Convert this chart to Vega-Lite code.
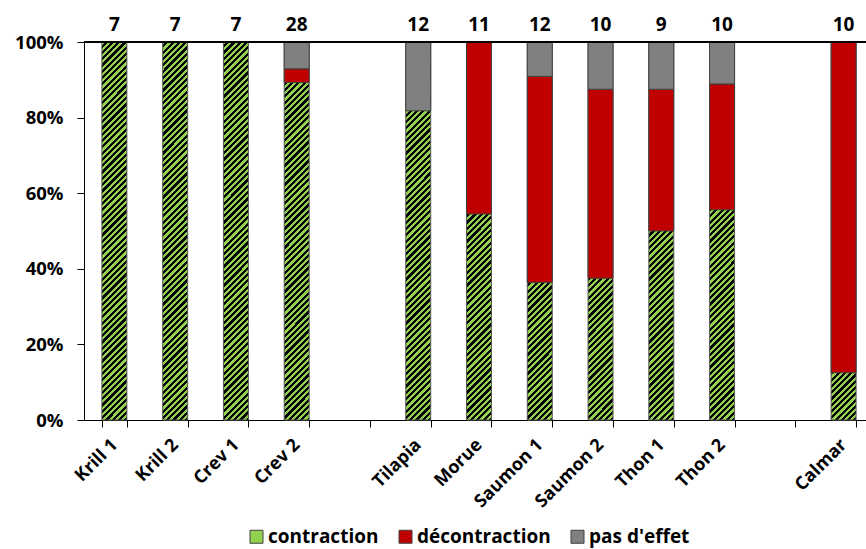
{
  "$schema": "https://vega.github.io/schema/vega-lite/v6.json",
  "width": 782,
  "height": 378,
  "autosize": "none",
  "padding": {"left": 84, "top": 42, "right": 0, "bottom": 129},
  "config": {
    "view": {"stroke": null},
    "font": "Open Sans",
    "axis": {"grid": false, "domainColor": "#000000", "tickColor": "#000000", "labelColor": "#000000", "labelFont": "Open Sans", "labelFontWeight": "bold", "labelFontSize": 18, "tickSize": 7, "domainWidth": 1, "tickWidth": 1}
  },
  "data": {
    "values": [
      {"fish": "Krill 1", "type": "contraction", "pct": 1, "n": 7},
      {"fish": "Krill 2", "type": "contraction", "pct": 1, "n": 7},
      {"fish": "Crev 1", "type": "contraction", "pct": 1, "n": 7},
      {"fish": "Crev 2", "type": "contraction", "pct": 0.893, "n": 28},
      {"fish": "Crev 2", "type": "décontraction", "pct": 0.036, "n": 28},
      {"fish": "Crev 2", "type": "pas d'effet", "pct": 0.071, "n": 28},
      {"fish": "Tilapia", "type": "contraction", "pct": 0.818, "n": 12},
      {"fish": "Tilapia", "type": "pas d'effet", "pct": 0.182, "n": 12},
      {"fish": "Morue", "type": "contraction", "pct": 0.545, "n": 11},
      {"fish": "Morue", "type": "décontraction", "pct": 0.455, "n": 11},
      {"fish": "Saumon 1", "type": "contraction", "pct": 0.364, "n": 12},
      {"fish": "Saumon 1", "type": "décontraction", "pct": 0.545, "n": 12},
      {"fish": "Saumon 1", "type": "pas d'effet", "pct": 0.091, "n": 12},
      {"fish": "Saumon 2", "type": "contraction", "pct": 0.375, "n": 10},
      {"fish": "Saumon 2", "type": "décontraction", "pct": 0.5, "n": 10},
      {"fish": "Saumon 2", "type": "pas d'effet", "pct": 0.125, "n": 10},
      {"fish": "Thon 1", "type": "contraction", "pct": 0.5, "n": 9},
      {"fish": "Thon 1", "type": "décontraction", "pct": 0.375, "n": 9},
      {"fish": "Thon 1", "type": "pas d'effet", "pct": 0.125, "n": 9},
      {"fish": "Thon 2", "type": "contraction", "pct": 0.556, "n": 10},
      {"fish": "Thon 2", "type": "décontraction", "pct": 0.333, "n": 10},
      {"fish": "Thon 2", "type": "pas d'effet", "pct": 0.111, "n": 10},
      {"fish": "Calmar", "type": "contraction", "pct": 0.125, "n": 10},
      {"fish": "Calmar", "type": "décontraction", "pct": 0.875, "n": 10}
    ]
  },
  "layer": [
    {
      "mark": {
        "type": "bar",
        "stroke": "#595959",
        "strokeWidth": 1,
        "fill": {
          "gradient": "linear", "x1": 0, "y1": 0, "x2": 0.0702, "y2": 1.0615,
          "stops": [
            {"offset":0,"color":"#92d050"},
            {"offset":0.00781,"color":"#92d050"},{"offset":0.00781,"color":"#000000"},
            {"offset":0.01563,"color":"#000000"},{"offset":0.01563,"color":"#92d050"},
            {"offset":0.02344,"color":"#92d050"},{"offset":0.02344,"color":"#000000"},
            {"offset":0.03125,"color":"#000000"},{"offset":0.03125,"color":"#92d050"},
            {"offset":0.03906,"color":"#92d050"},{"offset":0.03906,"color":"#000000"},
            {"offset":0.04688,"color":"#000000"},{"offset":0.04688,"color":"#92d050"},
            {"offset":0.05469,"color":"#92d050"},{"offset":0.05469,"color":"#000000"},
            {"offset":0.0625,"color":"#000000"},{"offset":0.0625,"color":"#92d050"},
            {"offset":0.07031,"color":"#92d050"},{"offset":0.07031,"color":"#000000"},
            {"offset":0.07813,"color":"#000000"},{"offset":0.07813,"color":"#92d050"},
            {"offset":0.08594,"color":"#92d050"},{"offset":0.08594,"color":"#000000"},
            {"offset":0.09375,"color":"#000000"},{"offset":0.09375,"color":"#92d050"},
            {"offset":0.10156,"color":"#92d050"},{"offset":0.10156,"color":"#000000"},
            {"offset":0.10938,"color":"#000000"},{"offset":0.10938,"color":"#92d050"},
            {"offset":0.11719,"color":"#92d050"},{"offset":0.11719,"color":"#000000"},
            {"offset":0.125,"color":"#000000"},{"offset":0.125,"color":"#92d050"},
            {"offset":0.13281,"color":"#92d050"},{"offset":0.13281,"color":"#000000"},
            {"offset":0.14063,"color":"#000000"},{"offset":0.14063,"color":"#92d050"},
            {"offset":0.14844,"color":"#92d050"},{"offset":0.14844,"color":"#000000"},
            {"offset":0.15625,"color":"#000000"},{"offset":0.15625,"color":"#92d050"},
            {"offset":0.16406,"color":"#92d050"},{"offset":0.16406,"color":"#000000"},
            {"offset":0.17188,"color":"#000000"},{"offset":0.17188,"color":"#92d050"},
            {"offset":0.17969,"color":"#92d050"},{"offset":0.17969,"color":"#000000"},
            {"offset":0.1875,"color":"#000000"},{"offset":0.1875,"color":"#92d050"},
            {"offset":0.19531,"color":"#92d050"},{"offset":0.19531,"color":"#000000"},
            {"offset":0.20313,"color":"#000000"},{"offset":0.20313,"color":"#92d050"},
            {"offset":0.21094,"color":"#92d050"},{"offset":0.21094,"color":"#000000"},
            {"offset":0.21875,"color":"#000000"},{"offset":0.21875,"color":"#92d050"},
            {"offset":0.22656,"color":"#92d050"},{"offset":0.22656,"color":"#000000"},
            {"offset":0.23438,"color":"#000000"},{"offset":0.23438,"color":"#92d050"},
            {"offset":0.24219,"color":"#92d050"},{"offset":0.24219,"color":"#000000"},
            {"offset":0.25,"color":"#000000"},{"offset":0.25,"color":"#92d050"},
            {"offset":0.25781,"color":"#92d050"},{"offset":0.25781,"color":"#000000"},
            {"offset":0.26563,"color":"#000000"},{"offset":0.26563,"color":"#92d050"},
            {"offset":0.27344,"color":"#92d050"},{"offset":0.27344,"color":"#000000"},
            {"offset":0.28125,"color":"#000000"},{"offset":0.28125,"color":"#92d050"},
            {"offset":0.28906,"color":"#92d050"},{"offset":0.28906,"color":"#000000"},
            {"offset":0.29688,"color":"#000000"},{"offset":0.29688,"color":"#92d050"},
            {"offset":0.30469,"color":"#92d050"},{"offset":0.30469,"color":"#000000"},
            {"offset":0.3125,"color":"#000000"},{"offset":0.3125,"color":"#92d050"},
            {"offset":0.32031,"color":"#92d050"},{"offset":0.32031,"color":"#000000"},
            {"offset":0.32813,"color":"#000000"},{"offset":0.32813,"color":"#92d050"},
            {"offset":0.33594,"color":"#92d050"},{"offset":0.33594,"color":"#000000"},
            {"offset":0.34375,"color":"#000000"},{"offset":0.34375,"color":"#92d050"},
            {"offset":0.35156,"color":"#92d050"},{"offset":0.35156,"color":"#000000"},
            {"offset":0.35938,"color":"#000000"},{"offset":0.35938,"color":"#92d050"},
            {"offset":0.36719,"color":"#92d050"},{"offset":0.36719,"color":"#000000"},
            {"offset":0.375,"color":"#000000"},{"offset":0.375,"color":"#92d050"},
            {"offset":0.38281,"color":"#92d050"},{"offset":0.38281,"color":"#000000"},
            {"offset":0.39063,"color":"#000000"},{"offset":0.39063,"color":"#92d050"},
            {"offset":0.39844,"color":"#92d050"},{"offset":0.39844,"color":"#000000"},
            {"offset":0.40625,"color":"#000000"},{"offset":0.40625,"color":"#92d050"},
            {"offset":0.41406,"color":"#92d050"},{"offset":0.41406,"color":"#000000"},
            {"offset":0.42188,"color":"#000000"},{"offset":0.42188,"color":"#92d050"},
            {"offset":0.42969,"color":"#92d050"},{"offset":0.42969,"color":"#000000"},
            {"offset":0.4375,"color":"#000000"},{"offset":0.4375,"color":"#92d050"},
            {"offset":0.44531,"color":"#92d050"},{"offset":0.44531,"color":"#000000"},
            {"offset":0.45313,"color":"#000000"},{"offset":0.45313,"color":"#92d050"},
            {"offset":0.46094,"color":"#92d050"},{"offset":0.46094,"color":"#000000"},
            {"offset":0.46875,"color":"#000000"},{"offset":0.46875,"color":"#92d050"},
            {"offset":0.47656,"color":"#92d050"},{"offset":0.47656,"color":"#000000"},
            {"offset":0.48438,"color":"#000000"},{"offset":0.48438,"color":"#92d050"},
            {"offset":0.49219,"color":"#92d050"},{"offset":0.49219,"color":"#000000"},
            {"offset":0.5,"color":"#000000"},{"offset":0.5,"color":"#92d050"},
            {"offset":0.50781,"color":"#92d050"},{"offset":0.50781,"color":"#000000"},
            {"offset":0.51563,"color":"#000000"},{"offset":0.51563,"color":"#92d050"},
            {"offset":0.52344,"color":"#92d050"},{"offset":0.52344,"color":"#000000"},
            {"offset":0.53125,"color":"#000000"},{"offset":0.53125,"color":"#92d050"},
            {"offset":0.53906,"color":"#92d050"},{"offset":0.53906,"color":"#000000"},
            {"offset":0.54688,"color":"#000000"},{"offset":0.54688,"color":"#92d050"},
            {"offset":0.55469,"color":"#92d050"},{"offset":0.55469,"color":"#000000"},
            {"offset":0.5625,"color":"#000000"},{"offset":0.5625,"color":"#92d050"},
            {"offset":0.57031,"color":"#92d050"},{"offset":0.57031,"color":"#000000"},
            {"offset":0.57813,"color":"#000000"},{"offset":0.57813,"color":"#92d050"},
            {"offset":0.58594,"color":"#92d050"},{"offset":0.58594,"color":"#000000"},
            {"offset":0.59375,"color":"#000000"},{"offset":0.59375,"color":"#92d050"},
            {"offset":0.60156,"color":"#92d050"},{"offset":0.60156,"color":"#000000"},
            {"offset":0.60938,"color":"#000000"},{"offset":0.60938,"color":"#92d050"},
            {"offset":0.61719,"color":"#92d050"},{"offset":0.61719,"color":"#000000"},
            {"offset":0.625,"color":"#000000"},{"offset":0.625,"color":"#92d050"},
            {"offset":0.63281,"color":"#92d050"},{"offset":0.63281,"color":"#000000"},
            {"offset":0.64063,"color":"#000000"},{"offset":0.64063,"color":"#92d050"},
            {"offset":0.64844,"color":"#92d050"},{"offset":0.64844,"color":"#000000"},
            {"offset":0.65625,"color":"#000000"},{"offset":0.65625,"color":"#92d050"},
            {"offset":0.66406,"color":"#92d050"},{"offset":0.66406,"color":"#000000"},
            {"offset":0.67188,"color":"#000000"},{"offset":0.67188,"color":"#92d050"},
            {"offset":0.67969,"color":"#92d050"},{"offset":0.67969,"color":"#000000"},
            {"offset":0.6875,"color":"#000000"},{"offset":0.6875,"color":"#92d050"},
            {"offset":0.69531,"color":"#92d050"},{"offset":0.69531,"color":"#000000"},
            {"offset":0.70313,"color":"#000000"},{"offset":0.70313,"color":"#92d050"},
            {"offset":0.71094,"color":"#92d050"},{"offset":0.71094,"color":"#000000"},
            {"offset":0.71875,"color":"#000000"},{"offset":0.71875,"color":"#92d050"},
            {"offset":0.72656,"color":"#92d050"},{"offset":0.72656,"color":"#000000"},
            {"offset":0.73438,"color":"#000000"},{"offset":0.73438,"color":"#92d050"},
            {"offset":0.74219,"color":"#92d050"},{"offset":0.74219,"color":"#000000"},
            {"offset":0.75,"color":"#000000"},{"offset":0.75,"color":"#92d050"},
            {"offset":0.75781,"color":"#92d050"},{"offset":0.75781,"color":"#000000"},
            {"offset":0.76563,"color":"#000000"},{"offset":0.76563,"color":"#92d050"},
            {"offset":0.77344,"color":"#92d050"},{"offset":0.77344,"color":"#000000"},
            {"offset":0.78125,"color":"#000000"},{"offset":0.78125,"color":"#92d050"},
            {"offset":0.78906,"color":"#92d050"},{"offset":0.78906,"color":"#000000"},
            {"offset":0.79688,"color":"#000000"},{"offset":0.79688,"color":"#92d050"},
            {"offset":0.80469,"color":"#92d050"},{"offset":0.80469,"color":"#000000"},
            {"offset":0.8125,"color":"#000000"},{"offset":0.8125,"color":"#92d050"},
            {"offset":0.82031,"color":"#92d050"},{"offset":0.82031,"color":"#000000"},
            {"offset":0.82813,"color":"#000000"},{"offset":0.82813,"color":"#92d050"},
            {"offset":0.83594,"color":"#92d050"},{"offset":0.83594,"color":"#000000"},
            {"offset":0.84375,"color":"#000000"},{"offset":0.84375,"color":"#92d050"},
            {"offset":0.85156,"color":"#92d050"},{"offset":0.85156,"color":"#000000"},
            {"offset":0.85938,"color":"#000000"},{"offset":0.85938,"color":"#92d050"},
            {"offset":0.86719,"color":"#92d050"},{"offset":0.86719,"color":"#000000"},
            {"offset":0.875,"color":"#000000"},{"offset":0.875,"color":"#92d050"},
            {"offset":0.88281,"color":"#92d050"},{"offset":0.88281,"color":"#000000"},
            {"offset":0.89063,"color":"#000000"},{"offset":0.89063,"color":"#92d050"},
            {"offset":0.89844,"color":"#92d050"},{"offset":0.89844,"color":"#000000"},
            {"offset":0.90625,"color":"#000000"},{"offset":0.90625,"color":"#92d050"},
            {"offset":0.91406,"color":"#92d050"},{"offset":0.91406,"color":"#000000"},
            {"offset":0.92188,"color":"#000000"},{"offset":0.92188,"color":"#92d050"},
            {"offset":0.92969,"color":"#92d050"},{"offset":0.92969,"color":"#000000"},
            {"offset":0.9375,"color":"#000000"},{"offset":0.9375,"color":"#92d050"},
            {"offset":0.94531,"color":"#92d050"},{"offset":0.94531,"color":"#000000"},
            {"offset":0.95313,"color":"#000000"},{"offset":0.95313,"color":"#92d050"},
            {"offset":0.96094,"color":"#92d050"},{"offset":0.96094,"color":"#000000"},
            {"offset":0.96875,"color":"#000000"},{"offset":0.96875,"color":"#92d050"},
            {"offset":0.97656,"color":"#92d050"},{"offset":0.97656,"color":"#000000"},
            {"offset":0.98438,"color":"#000000"},{"offset":0.98438,"color":"#92d050"},
            {"offset":0.99219,"color":"#92d050"},{"offset":0.99219,"color":"#000000"},
            {"offset":1,"color":"#000000"}
          ]
        }
      },
      "encoding": {
        "x": {
          "field": "fish", "type": "nominal", "title": null,
          "scale": {"domain": ["Krill 1", "Krill 2", "Crev 1", "Crev 2", " ", "Tilapia", "Morue", "Saumon 1", "Saumon 2", "Thon 1", "Thon 2", "  ", "Calmar"], "range": [0, 790], "paddingInner": 0.589, "paddingOuter": 0.2945},
          "axis": {"labelAngle": -45, "labelAlign": "right", "labelBaseline": "middle", "labelPadding": 15, "tickBand": "extent", "labelOverlap": false, "labelBound": false}
        },
        "y": {
          "aggregate": "sum", "field": "pct", "type": "quantitative", "title": null,
          "scale": {"domain": [0, 1]},
          "axis": {"values": [0, 0.2, 0.4, 0.6, 0.8, 1], "format": ".0%", "labelPadding": 14, "labelFontSize": 18.5}
        }
      }
    },
    {
      "transform": [
        {"stack": "pct", "groupby": ["fish"], "sort": [{"field": "type", "order": "ascending"}], "as": ["lo", "hi"]},
        {"filter": "datum.type !== 'contraction'"}
      ],
      "mark": {"type": "bar", "stroke": "#404040", "strokeWidth": 1},
      "encoding": {
        "x": {"field": "fish", "type": "nominal"},
        "y": {"field": "hi", "type": "quantitative"},
        "y2": {"field": "lo"},
        "color": {
          "field": "type", "type": "nominal",
          "scale": {
            "domain": ["contraction", "décontraction", "pas d'effet"],
            "range": ["#92d050", "#c00000", "#808080"]
          },
          "legend": {
            "title": null, "orient": "none", "direction": "horizontal",
            "legendX": 163, "legendY": 485, "padding": 0,
            "labelFont": "Open Sans", "labelFontSize": 19, "labelFontWeight": "bold", "labelColor": "#000000",
            "symbolType": "square", "symbolSize": 169, "symbolStrokeColor": "#404040", "symbolStrokeWidth": 1,
            "symbolOpacity": 1, "labelOffset": 2, "columnPadding": 17,
            "encode": {
              "symbols": {
                "update": {
                  "fill": [
                    {"test": "datum.value === 'contraction'", "value": {"gradient": "linear", "x1": 0, "y1": 0, "x2": 1, "y2": 1, "stops": [
                      {"offset":0,"color":"#92d050"},{"offset":0.125,"color":"#92d050"},{"offset":0.125,"color":"#000000"},
                      {"offset":0.25,"color":"#000000"},{"offset":0.25,"color":"#92d050"},{"offset":0.375,"color":"#92d050"},
                      {"offset":0.375,"color":"#000000"},{"offset":0.5,"color":"#000000"},{"offset":0.5,"color":"#92d050"},
                      {"offset":0.625,"color":"#92d050"},{"offset":0.625,"color":"#000000"},{"offset":0.75,"color":"#000000"},
                      {"offset":0.75,"color":"#92d050"},{"offset":0.875,"color":"#92d050"},{"offset":0.875,"color":"#000000"},
                      {"offset":1,"color":"#000000"}
                    ]}},
                    {"scale": "color", "field": "value"}
                  ],
                  "stroke": {"value": "#404040"},
                  "strokeWidth": {"value": 1}
                }
              }
            }
          }
        }
      }
    },
    {
      "mark": {"type": "rule", "color": "#000000", "strokeWidth": 1},
      "encoding": {"y": {"datum": 1}}
    },
    {
      "mark": {"type": "text", "fontSize": 19, "fontWeight": "bold", "font": "Open Sans", "color": "#000000", "baseline": "alphabetic", "dy": -11},
      "encoding": {
        "x": {"field": "fish", "type": "nominal"},
        "y": {"datum": 1},
        "text": {"aggregate": "max", "field": "n", "type": "quantitative"}
      }
    }
  ]
}
